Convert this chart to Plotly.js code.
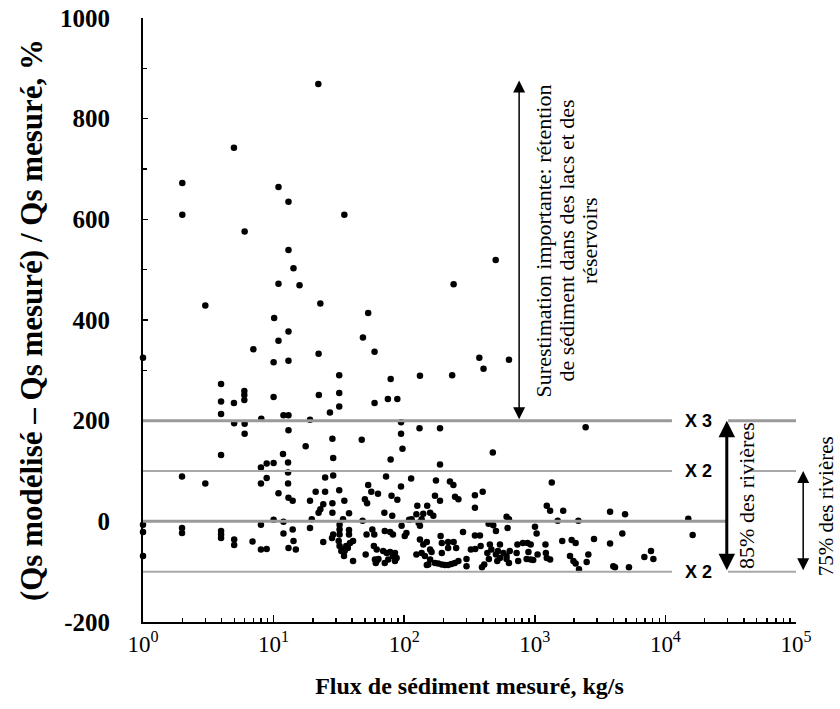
<!DOCTYPE html>
<html>
<head>
<meta charset="utf-8">
<script src="https://cdn.plot.ly/plotly-3.0.1.min.js"></script>
<style>html,body{margin:0;padding:0;background:#fff;}</style>
</head>
<body>
<div id="chart" style="width:840px;height:709px;"></div>
<script>
// Measured sediment flux (kg/s)
const fluxMeasured = [
 22, 2.0, 4.97, 10.9, 13.0, 2.0, 34.8, 6.0, 13.0, 14.2, 10.9, 15.8, 3.0, 22.8, 502, 239, 10.1, 53, 13.0, 10.9,
 48.3, 7.0, 59.3, 22.1, 1.0, 10.0, 13.0, 376, 634, 405, 233, 132, 31.8, 78.8, 3.96, 5.97, 5.97, 5.97, 10.0, 22.2,
 31.8, 3.96, 4.97, 59.3, 75, 88.6, 31.8, 27, 3.96, 11.9, 13.0, 19, 8.05,
 4.99, 6.0, 94.6, 6.0, 13.0, 94.6, 131, 188, 2450, 17.6, 28.2, 47.3, 97, 477, 3.96, 11.8, 28.6, 78.7, 12.9, 8.0,
 8.85, 10.0, 188, 1.99, 3.0, 8.0, 8.85, 12.9, 24.8, 28.6, 72.6, 113, 175, 224, 238, 1349, 12.9, 94.5, 10.9, 21,
 24.8, 31.8, 53, 56, 63, 80, 13.0, 14, 19, 24, 28.2, 34.8, 52, 50, 88.6, 172, 188, 245, 260, 348, 399, 348, 126,
 150, 1235, 1310, 1650, 3770, 4910, 14970, 22.1, 22.8, 28.2, 37.8, 70.5, 81, 19.6, 34, 48, 109, 10.0, 124, 140,
 158, 167, 114, 136, 608, 634, 1497, 2155,
 1.0, 1.0, 1.0, 1.99, 1.99, 3.96, 3.96, 3.96, 4.99, 4.99, 6.9, 8.0, 8.0, 8.85, 11.9, 32, 32, 32, 11.9, 14, 19,
 37.8, 37.8, 28.6, 28, 51.5, 57, 59, 71, 78, 82, 95.5, 104, 101, 24, 13, 14.8, 14.2, 31.5, 32, 34, 36, 38.5, 40.6,
 35, 33, 37, 34.6, 40.6, 50.7, 58.6, 61.6, 59.7, 61.6, 63.5, 69, 73.5, 78, 85, 82, 87.5, 75.5, 60.6, 85, 71, 129,
 132, 443, 481, 504, 619, 1003, 1033, 282, 348, 380, 190, 132, 140, 149, 158, 162, 194, 217, 217, 239, 250, 124,
 136, 144, 158, 172, 182, 194, 205, 217, 230, 244, 260, 149, 194, 300, 300, 324, 350, 385, 394, 410, 433, 445,
 465, 453, 504, 516, 541, 522, 575, 608, 634, 608, 643, 541, 736, 811, 879, 930, 894, 726, 746, 866, 930, 972,
 1050, 1215, 16170, 1207, 1235, 1310, 1622, 1915, 2055, 2840, 3770, 4680, 1860, 1975, 2055, 2180, 2570, 2495,
 3990, 4110, 5260, 6900, 7760, 8090, 153
];
// (Qs modelled - Qs measured) / Qs measured, %
const relativeError = [
 869, 672, 742, 664, 635, 609, 609, 576, 539, 503, 472, 469, 429, 433, 519, 471, 404, 414, 377, 359,
 365, 342, 337, 333, 325, 316, 319, 325, 321, 303, 290, 289, 290, 283, 273, 259, 251, 241, 247, 251,
 255, 238, 235, 235, 243, 243, 228, 216, 213, 211, 211, 202, 204,
 195, 194, 197, 174, 181, 174, 185, 185, 187, 149, 164, 162, 144, 137, 132, 134, 126, 123, 117, 107,
 115, 116, 113, 89, 75, 75, 86, 97, 87, 91, 89, 85, 81, 79, 72, 77, 75, 69, 56, 59,
 59, 62, 72, 59, 55, 51, 47, 41, 41, 34, 36, 41, 36, 44, 43, 51, 41, 49, 44, 52, 59, 27, 31,
 31, 31, 21, 21, 19, 14, 5, 17, 24, 17, 16, 17, 11, 4, 4, 1, 3, 3, 14, 15,
 17, 11, 4, 4, 9, 4, 1, 1,
 -7, -21, -69, -13, -23, -19, -26, -33, -36, -47, -40, -7, -56, -55, -1, -7, -16, -26, -24, -16, -13,
 -17, -26, -26, -33, -26, -16, -26, -19, -21, -26, -9, -23, -29, -41, -53, -56, -39, -39, -49, -56, -49, -43, -39,
 -59, -59, -53, -69, -79, -66, -49, -56, -76, -79, -75, -59, -63, -61, -63, -69, -73, -76, -83, -79, -83, -3,
 -9, -5, -8, -19, -13, -11, -24, -21, -28, -28, -29, -36, -46, -41, -56, -61, -43, -41, -53, -41, -53, -66,
 -63, -69, -76, -83, -84, -86, -87, -87, -85, -83, -79, -87, -63, -75, -89, -56, -55, -49, -91, -86, -63, -75,
 -56, -46, -66, -79, -73, -59, -63, -69, -83, -75, -59, -46, -46, -43, -43, -46, -61, -63, -79, -75, -76, -77,
 -66, -63, -27, -46, -73, -76, -39, -37, -43, -35, -44, -24, -69, -79, -84, -95, -66, -81,
 -89, -91, -91, -71, -59, -75, -86
];
const xTickValues = [1, 10, 100, 1000, 10000, 100000];
const xTickLabels = ['10<sup>0</sup>', '10<sup>1</sup>', '10<sup>2</sup>', '10<sup>3</sup>', '10<sup>4</sup>', '10<sup>5</sup>'];
const yTickValues = [-200, 0, 200, 400, 600, 800, 1000];
const yTickLabels = ['-200', '0', '200', '400', '600', '800', '1000'];
const refLevels = [200, 100, 0, -100];
const factorLabels = ['X 3', 'X 2', 'X 2'];
const noteLines = ['Surestimation importante: rétention', 'de sédiment dans des lacs et des', 'réservoirs'];
const shareLabels = ['85% des rivières', '75% des rivières'];

const minorX = [];
for (let d = 0; d < 5; d++) for (let k = 2; k <= 9; k++) minorX.push(k * Math.pow(10, d));

const serif = 'Liberation Serif, Times New Roman, serif';
const sans = 'Liberation Sans, Arial, sans-serif';

const trace = {
  x: fluxMeasured, y: relativeError, type: 'scatter', mode: 'markers',
  marker: {color: '#000', size: 6.5, symbol: 'circle'},
  cliponaxis: false, hoverinfo: 'x+y'
};

const gridCol = '#9a9a9a';
const thinCol = '#a8a8a8';
const shapes = [
  {type:'line', xref:'paper', yref:'y', x0:0, x1:0.81, y0:refLevels[0], y1:refLevels[0], line:{color:gridCol, width:3}},
  {type:'line', xref:'paper', yref:'y', x0:0.896, x1:1, y0:refLevels[0], y1:refLevels[0], line:{color:gridCol, width:3}},
  {type:'line', xref:'paper', yref:'y', x0:0, x1:0.81, y0:refLevels[1], y1:refLevels[1], line:{color:thinCol, width:2}},
  {type:'line', xref:'paper', yref:'y', x0:0.925, x1:1, y0:refLevels[1], y1:refLevels[1], line:{color:thinCol, width:2}},
  {type:'line', xref:'paper', yref:'y', x0:0, x1:0.896, y0:refLevels[2], y1:refLevels[2], line:{color:gridCol, width:3}},
  {type:'line', xref:'paper', yref:'y', x0:0, x1:0.81, y0:refLevels[3], y1:refLevels[3], line:{color:thinCol, width:2}},
  {type:'line', xref:'paper', yref:'y', x0:0.896, x1:1, y0:refLevels[3], y1:refLevels[3], line:{color:thinCol, width:2}}
];

const xFont = {family:sans, size:18, weight:'bold', color:'#000'};
const noteFont = {family:serif, size:22, color:'#000'};
const annotations = [
  {xref:'paper', yref:'y', x:0.85, y:refLevels[0], xanchor:'center', yanchor:'middle', text:factorLabels[0], showarrow:false, font:xFont},
  {xref:'paper', yref:'y', x:0.85, y:refLevels[1], xanchor:'center', yanchor:'middle', text:factorLabels[1], showarrow:false, font:xFont},
  {xref:'paper', yref:'y', x:0.85, y:refLevels[3], xanchor:'center', yanchor:'middle', text:factorLabels[2], showarrow:false, font:xFont},
  // arrows
  {xref:'paper', yref:'y', x:0.576, y:876, axref:'pixel', ax:0, ayref:'y', ay:200, text:'', showarrow:true,
   arrowside:'end+start', arrowhead:2, startarrowhead:2, arrowsize:1.6, startarrowsize:1.6, arrowwidth:1.5, arrowcolor:'#000', standoff:0, startstandoff:0},
  {xref:'paper', yref:'y', x:0.894, y:200, axref:'pixel', ax:0, ayref:'y', ay:-100, text:'', showarrow:true,
   arrowside:'end+start', arrowhead:2, startarrowhead:2, arrowsize:1.1, startarrowsize:1.1, arrowwidth:3, arrowcolor:'#000', standoff:0, startstandoff:0},
  {xref:'paper', yref:'y', x:1.011, y:100, axref:'pixel', ax:0, ayref:'y', ay:-100, text:'', showarrow:true,
   arrowside:'end+start', arrowhead:2, startarrowhead:2, arrowsize:1.6, startarrowsize:1.6, arrowwidth:1.5, arrowcolor:'#000', standoff:0, startstandoff:0},
  // rotated texts
  {xref:'paper', yref:'y', x:0.614, y:558, xanchor:'center', yanchor:'middle', textangle:-90, showarrow:false, text:noteLines[0], font:noteFont},
  {xref:'paper', yref:'y', x:0.648, y:558, xanchor:'center', yanchor:'middle', textangle:-90, showarrow:false, text:noteLines[1], font:noteFont},
  {xref:'paper', yref:'y', x:0.684, y:558, xanchor:'center', yanchor:'middle', textangle:-90, showarrow:false, text:noteLines[2], font:noteFont},
  {xref:'paper', yref:'y', x:0.923, y:52, xanchor:'center', yanchor:'middle', textangle:-90, showarrow:false, text:shareLabels[0], font:noteFont},
  {xref:'paper', yref:'y', x:1.046, y:30, xanchor:'center', yanchor:'middle', textangle:-90, showarrow:false, text:shareLabels[1],
   font:{family:serif, size:21, color:'#000'}, borderpad:0}
];

const layout = {
  width: 840, height: 709,
  margin: {l:143, r:44, t:18, b:87, autoexpand:false},
  paper_bgcolor:'#fff', plot_bgcolor:'#fff',
  showlegend:false,
  xaxis: {
    type:'log', range:[0, 5], autorange:false,
    showline:true, linecolor:'#000', linewidth:2, showgrid:false, zeroline:false,
    tickmode:'array', tickvals:xTickValues, ticktext:xTickLabels,
    ticks:'inside', ticklen:7, tickwidth:1.5, tickcolor:'#000',
    minor:{tickmode:'array', tickvals:minorX, ticks:'inside', ticklen:4, tickwidth:1.5, tickcolor:'#000', showgrid:false},
    tickfont:{family:serif, size:23, color:'#000'},
    title:{text:'Flux de sédiment mesuré, kg/s', font:{family:serif, size:24, weight:'bold', color:'#000'}, standoff:22}
  },
  yaxis: {
    range:[-200, 1000], autorange:false,
    showline:true, linecolor:'#000', linewidth:2, showgrid:false, zeroline:false,
    tickmode:'array', tickvals:yTickValues, ticktext:yTickLabels,
    ticks:'inside', ticklen:5, tickwidth:1.5, tickcolor:'#000',
    minor:{dtick:100, tick0:-200, ticks:'inside', ticklen:4, tickwidth:1.5, tickcolor:'#000', showgrid:false},
    tickfont:{family:serif, size:25, weight:'bold', color:'#000'},
    ticklabelstandoff:26,
    title:{text:'(Qs modélisé – Qs mesuré) / Qs mesuré, %', font:{family:serif, size:31, weight:'bold', color:'#000'}, standoff:8}
  },
  shapes: shapes,
  annotations: annotations
};

Plotly.newPlot('chart', [trace], layout, {displayModeBar:false, staticPlot:true});
</script>
</body>
</html>
